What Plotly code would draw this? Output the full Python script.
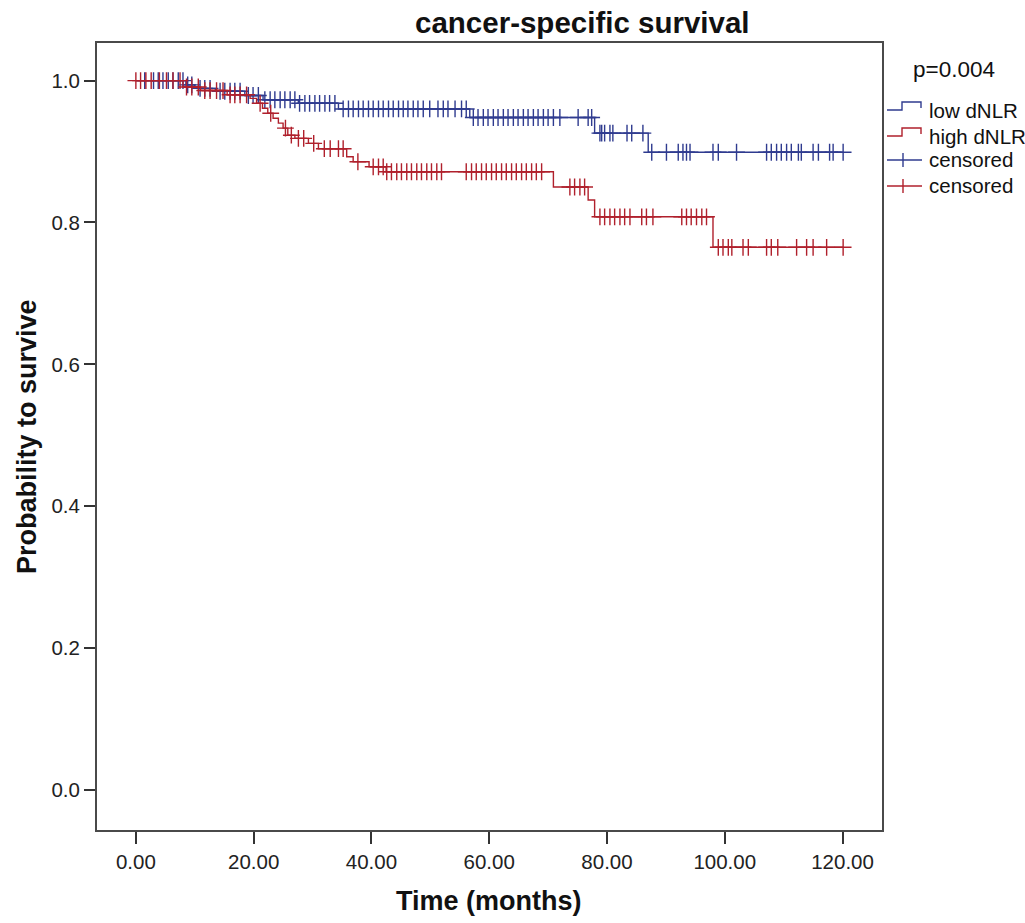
import plotly.graph_objects as go

# Kaplan-Meier step curves: event times (months) and survival after each step
low_event_t = [0, 8.5, 10.0, 13.5, 18.5, 21.6, 27.6, 34.4, 56.7, 77.9, 87.0]
low_surv = [1.0, 0.994, 0.989, 0.985, 0.979, 0.973, 0.968, 0.960, 0.948, 0.926, 0.899]

high_event_t = [0, 8.0, 11.0, 15.5, 19.4, 20.5, 21.5, 22.4, 23.3, 24.2, 25.0, 25.8,
                27.0, 29.3, 31.0, 35.8, 36.9, 39.6, 42.5, 70.9, 76.8, 77.9, 98.0]
high_surv = [1.0, 0.991, 0.986, 0.980, 0.975, 0.968, 0.961, 0.954, 0.947, 0.940, 0.933, 0.923,
             0.9185, 0.9115, 0.904, 0.8926, 0.8856, 0.8785, 0.8715, 0.850, 0.8316, 0.808, 0.765]

# censoring times (months)
low_censored = [1.5, 3.0, 3.8, 4.6, 5.5, 6.3, 7.2, 8.0, 8.8, 9.5, 10.9, 11.7, 12.6,
                14.3, 15.1, 16.0, 16.8, 17.7, 19.1, 19.9, 20.8, 21.9, 22.8, 23.6, 24.5,
                25.3, 26.2, 27.0, 27.8, 28.7, 29.5, 30.4, 31.2, 32.1, 32.9, 33.8,
                35.2, 36.1, 36.9, 37.8, 38.6, 39.5, 40.3, 41.2, 42.0, 42.9, 43.7, 44.6,
                45.4, 46.2, 47.1, 47.9, 48.8, 49.9, 51.3, 52.2, 53.0, 54.2, 55.3, 56.1,
                57.3, 58.1, 59.0, 59.8, 60.7, 61.5, 62.4, 63.2, 64.1, 64.9, 65.8, 66.6,
                67.5, 68.3, 69.2, 70.0, 70.9, 72.0, 75.1, 76.8, 77.4,
                78.8, 79.1, 79.6, 80.5, 81.0, 83.4, 84.2, 86.1,
                87.6, 90.1, 92.1, 92.9, 93.5, 94.1, 98.0, 98.9, 102.0, 107.1, 107.9,
                108.8, 109.6, 110.5, 111.3, 112.5, 113.0, 115.0, 115.9, 117.8, 118.4, 120.1]

high_censored = [0.0, 0.8, 1.7, 2.6, 4.0, 5.2, 6.3, 7.5, 8.6, 9.5, 10.6, 11.7, 12.6,
                 13.7, 14.8, 16.0, 16.8, 17.7, 18.8, 21.1, 22.9, 25.4, 26.4, 27.6, 28.5,
                 30.2, 32.0, 33.0, 34.4, 35.2, 37.7, 40.3, 41.2, 42.0,
                 42.6, 43.4, 44.3, 45.1, 46.0, 46.8, 47.7, 48.5, 49.4, 50.2, 51.1, 51.9,
                 56.1, 57.0, 57.8, 58.7, 59.5, 60.4, 61.2, 62.1, 62.9, 63.8, 64.6, 65.5,
                 66.3, 67.2, 68.0, 68.9, 73.7, 74.5, 75.4, 76.2,
                 78.8, 79.6, 80.5, 81.3, 82.2, 83.0, 83.9, 85.9, 86.7, 87.8,
                 92.7, 93.5, 94.3, 95.2, 96.1, 96.9,
                 98.9, 99.7, 100.6, 101.2, 103.1, 104.0, 107.1, 107.9, 109.0, 112.2,
                 113.9, 115.0, 117.3, 120.1]

x_ticks = [0, 20, 40, 60, 80, 100, 120]
y_ticks = [0.0, 0.2, 0.4, 0.6, 0.8, 1.0]

BLUE = "#2f3b8f"
RED = "#b0202c"
FONT = "Liberation Sans, Arial, sans-serif"

W, H = 1025, 923
ML, MR, MT, MB = 97, 143, 43, 93


def surv_at(t, times, surv):
    s = surv[0]
    for ti, si in zip(times, surv):
        if ti <= t:
            s = si
    return s


def step_xy(times, surv, cens):
    end = max(cens)
    return list(times) + [end], list(surv) + [surv[-1]]


def px(x):
    return (x - ML) / (W - ML - MR)


def py(y):
    return (H - MB - y) / (H - MT - MB)


fig = go.Figure()

for times, surv, cens, color in [
    (low_event_t, low_surv, low_censored, BLUE),
    (high_event_t, high_surv, high_censored, RED),
]:
    sx, sy = step_xy(times, surv, cens)
    fig.add_trace(go.Scatter(x=sx, y=sy, mode="lines", line=dict(color=color, width=1.4, shape="hv"),
                             showlegend=False, hoverinfo="skip"))
    fig.add_trace(go.Scatter(x=cens, y=[surv_at(t, times, surv) for t in cens], mode="markers",
                             marker=dict(symbol="cross-thin", size=12, line=dict(color=color, width=1.4)),
                             showlegend=False, hoverinfo="skip"))

axis_common = dict(showline=True, linecolor="#4a4a4a", linewidth=2, mirror=True, ticks="outside",
                   tickcolor="#333333", tickwidth=2, showgrid=False, zeroline=False,
                   tickfont=dict(family=FONT, size=20.5, color="#222222"))

fig.update_xaxes(range=[-6.6, 126.7], tickvals=x_ticks, ticktext=[f"{v:.2f}" for v in x_ticks],
                 ticklen=12, **axis_common)
fig.update_yaxes(range=[-0.0564, 1.053], tickvals=y_ticks, ticktext=[f"{v:.1f}" for v in y_ticks],
                 ticklen=11, **axis_common)

annotations = [
    dict(text="<b>cancer-specific survival</b>", x=px(582), y=py(23), font=dict(size=29.5)),
    dict(text="<b>Time (months)</b>", x=px(489), y=py(901), font=dict(size=27)),
    dict(text="<b>Probability to survive</b>", x=px(27), y=py(437), textangle=-90, font=dict(size=27)),
    dict(text="p=0.004", x=px(954), y=py(69), font=dict(size=22.5)),
]
legend_rows = [("low dNLR", 110), ("high dNLR", 136), ("censored", 160), ("censored", 186)]
for label, yy in legend_rows:
    annotations.append(dict(text=label, x=px(927), y=py(yy), xanchor="left", font=dict(size=20.5)))

for a in annotations:
    a.setdefault("xanchor", "center")
    a.update(xref="paper", yref="paper", yanchor="middle", showarrow=False)
    a["font"] = dict(family=FONT, color="#111111", **a["font"])

shapes = []
# step-shaped legend icons for the curves
for color, yy in [(BLUE, 110), (RED, 136)]:
    path = (f"M {px(887)},{py(yy)} L {px(902)},{py(yy)} L {px(902)},{py(yy - 8)} "
            f"L {px(921)},{py(yy - 8)} L {px(921)},{py(yy - 2)}")
    shapes.append(dict(type="path", path=path, xref="paper", yref="paper",
                       line=dict(color=color, width=1.4)))
# cross legend icons for censoring
for color, yy in [(BLUE, 160), (RED, 186)]:
    shapes.append(dict(type="line", x0=px(887), x1=px(922), y0=py(yy), y1=py(yy), xref="paper",
                       yref="paper", line=dict(color=color, width=1.4)))
    shapes.append(dict(type="line", x0=px(903), x1=px(903), y0=py(yy - 7), y1=py(yy + 7), xref="paper",
                       yref="paper", line=dict(color=color, width=1.4)))

fig.update_layout(width=W, height=H, margin=dict(l=ML, r=MR, t=MT, b=MB),
                  paper_bgcolor="white", plot_bgcolor="white",
                  annotations=annotations, shapes=shapes)

fig.write_html("out.html")
